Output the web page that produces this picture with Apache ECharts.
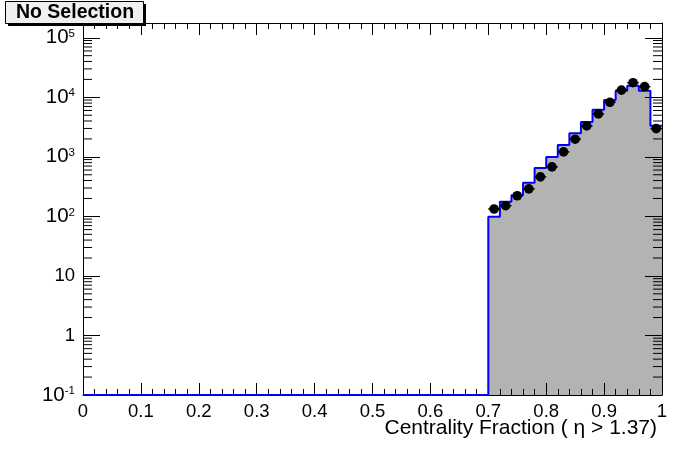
<!DOCTYPE html>
<html>
<head>
<meta charset="utf-8">
<script src="https://cdn.jsdelivr.net/npm/echarts@6/dist/echarts.min.js"></script>
<style>
html,body{margin:0;padding:0;background:#fff;}
#chart{width:696px;height:472px;}
</style>
</head>
<body>
<div id="chart"></div>
<script>
// ---- data ----
var binWidth = 0.02;
var binLow = [0.70,0.72,0.74,0.76,0.78,0.80,0.82,0.84,0.86,0.88,0.90,0.92,0.94,0.96,0.98];
var histValues = [99,176,226,367,649,993,1578,2482,3840,6180,8990,12900,15600,12900,3330];
var pointValues = [133,151,222,290,461,679,1210,1980,3300,5250,8250,13200,17600,15100,2980];
var xTickLabels = ['0','0.1','0.2','0.3','0.4','0.5','0.6','0.7','0.8','0.9','1'];
var xMin = 0, xMax = 1, yMin = 0.1, yMax = 1.77e5;
var titleText = 'No Selection';
var xTitle = 'Centrality Fraction ( \u03b7 > 1.37)';

var FONT = '"Liberation Sans", Arial, Helvetica, sans-serif';

// histogram outline points (step), empty region drawn at the axis minimum
var histLine = [[xMin, yMin]];
for (var i = 0; i < binLow.length; i++) histLine.push([binLow[i], histValues[i]]);
histLine.push([binLow[binLow.length-1] + binWidth, histValues[histValues.length-1]]);

var pointData = binLow.map(function(x, i){ return [x + binWidth/2, pointValues[i]]; });

// log minor ticks
var minorVals = [];
for (var d = -1; d <= 5; d++) {
  for (var k = 2; k <= 9; k++) {
    var v = k * Math.pow(10, d);
    if (v < yMax) minorVals.push([0, v]);
  }
}

function yLabel(v) {
  var e = Math.round(Math.log10(v));
  if (Math.abs(v / Math.pow(10, e) - 1) > 1e-6) return '';
  if (e === 0) return '{p|1}';
  if (e === 1) return '{p|10}';
  return '{b|10}{s|' + e + '}';
}

var chart = echarts.init(document.getElementById('chart'), null, {renderer: 'canvas'});
var axisLineStyle = {show: true, onZero: false, lineStyle: {color: '#000', width: 1}};
var option = {
  animation: false,
  backgroundColor: '#fff',
  grid: {left: 83, right: 34, top: 23, bottom: 77, containLabel: false, outerBoundsMode: 'none'},
  xAxis: [{
    type: 'value', min: xMin, max: xMax, interval: 0.1, position: 'bottom', z: 3,
    axisLine: axisLineStyle,
    axisTick: {show: true, inside: true, length: 12, lineStyle: {color: '#000'}},
    minorTick: {show: true, splitNumber: 5, length: 6, lineStyle: {color: '#000'}},
    splitLine: {show: false}, minorSplitLine: {show: false},
    axisLabel: {show: true, margin: 7, color: '#000', fontSize: 18.5, fontFamily: FONT,
      formatter: function(v){ return xTickLabels[Math.round(v*10)]; }}
  }, {
    type: 'value', min: xMin, max: xMax, interval: 0.1, position: 'top', z: 3,
    axisLine: axisLineStyle,
    axisTick: {show: true, inside: true, length: 12, lineStyle: {color: '#000'}},
    minorTick: {show: true, splitNumber: 5, length: 6, lineStyle: {color: '#000'}},
    splitLine: {show: false}, axisLabel: {show: false}
  }],
  yAxis: [{
    type: 'log', logBase: 10, min: yMin, max: yMax, position: 'left', z: 3,
    axisLine: axisLineStyle,
    axisTick: {show: true, inside: true, length: 17, lineStyle: {color: '#000'}},
    splitLine: {show: false},
    axisLabel: {show: true, margin: 8, color: '#000', fontFamily: FONT, formatter: yLabel,
      rich: {
        p: {fontSize: 18.5, fontFamily: FONT, color: '#000'},
        b: {fontSize: 20.5, fontFamily: FONT, color: '#000', lineHeight: 20, verticalAlign: 'middle', padding: [3,0,3,0]},
        s: {fontSize: 11.5, fontFamily: FONT, color: '#000', lineHeight: 11, verticalAlign: 'top'}
      }}
  }, {
    type: 'log', logBase: 10, min: yMin, max: yMax, position: 'right', z: 3,
    axisLine: axisLineStyle,
    axisTick: {show: true, inside: true, length: 17, lineStyle: {color: '#000'}},
    splitLine: {show: false}, axisLabel: {show: false}
  }],
  series: [{
    type: 'line', name: 'fill', data: histLine, step: 'end', symbol: 'none', z: 1,
    lineStyle: {width: 0, opacity: 0},
    areaStyle: {color: '#b3b3b3', opacity: 1, origin: 'start'},
    silent: true
  }, {
    type: 'line', name: 'hist', data: histLine, step: 'end', symbol: 'none', z: 4, clip: false,
    lineStyle: {color: '#0000ff', width: 2}, silent: true
  }, {
    type: 'custom', name: 'minorTicks', data: minorVals, z: 5, silent: true, clip: false,
    renderItem: function(params, api) {
      var v = api.value(1);
      var l = api.coord([xMin, v]);
      var r = api.coord([xMax, v]);
      var st = {stroke: '#000', lineWidth: 1};
      return {type: 'group', children: [
        {type: 'line', shape: {x1: l[0], y1: l[1], x2: l[0] + 9, y2: l[1]}, style: st},
        {type: 'line', shape: {x1: r[0] - 9, y1: r[1], x2: r[0], y2: r[1]}, style: st}
      ]};
    }
  }, {
    type: 'custom', name: 'data', data: pointData, z: 6, silent: true,
    encode: {x: 0, y: 1},
    renderItem: function(params, api) {
      var x = api.value(0), v = api.value(1), err = Math.sqrt(v);
      var c = api.coord([x, v]);
      var lft = api.coord([x - binWidth/2, v]);
      var rgt = api.coord([x + binWidth/2, v]);
      var up = api.coord([x, v + err]);
      var dn = api.coord([x, v - err]);
      var st = {stroke: '#000', lineWidth: 1.5};
      return {type: 'group', children: [
        {type: 'line', shape: {x1: lft[0], y1: lft[1], x2: rgt[0], y2: rgt[1]}, style: st},
        {type: 'line', shape: {x1: c[0], y1: up[1], x2: c[0], y2: dn[1]}, style: st},
        {type: 'circle', shape: {cx: c[0], cy: c[1], r: 4.8}, style: {fill: '#000'}}
      ]};
    }
  }],
  graphic: [
    {type: 'rect', shape: {x: 8, y: 4, width: 138, height: 22}, style: {fill: '#000'}, z: 10},
    {type: 'rect', shape: {x: 5.5, y: 1.5, width: 138, height: 22}, style: {fill: '#f0f0f0', stroke: '#000', lineWidth: 1}, z: 11},
    {type: 'text', x: 75, y: 13, z: 12, style: {text: titleText, fill: '#000', font: 'bold 19.5px ' + FONT, textAlign: 'center', textVerticalAlign: 'middle'}},
    {type: 'text', x: 657, y: 428, z: 12, style: {text: xTitle, fill: '#000', font: '21px ' + FONT, textAlign: 'right', textVerticalAlign: 'middle'}}
  ]
};
chart.setOption(option);
</script>
</body>
</html>
